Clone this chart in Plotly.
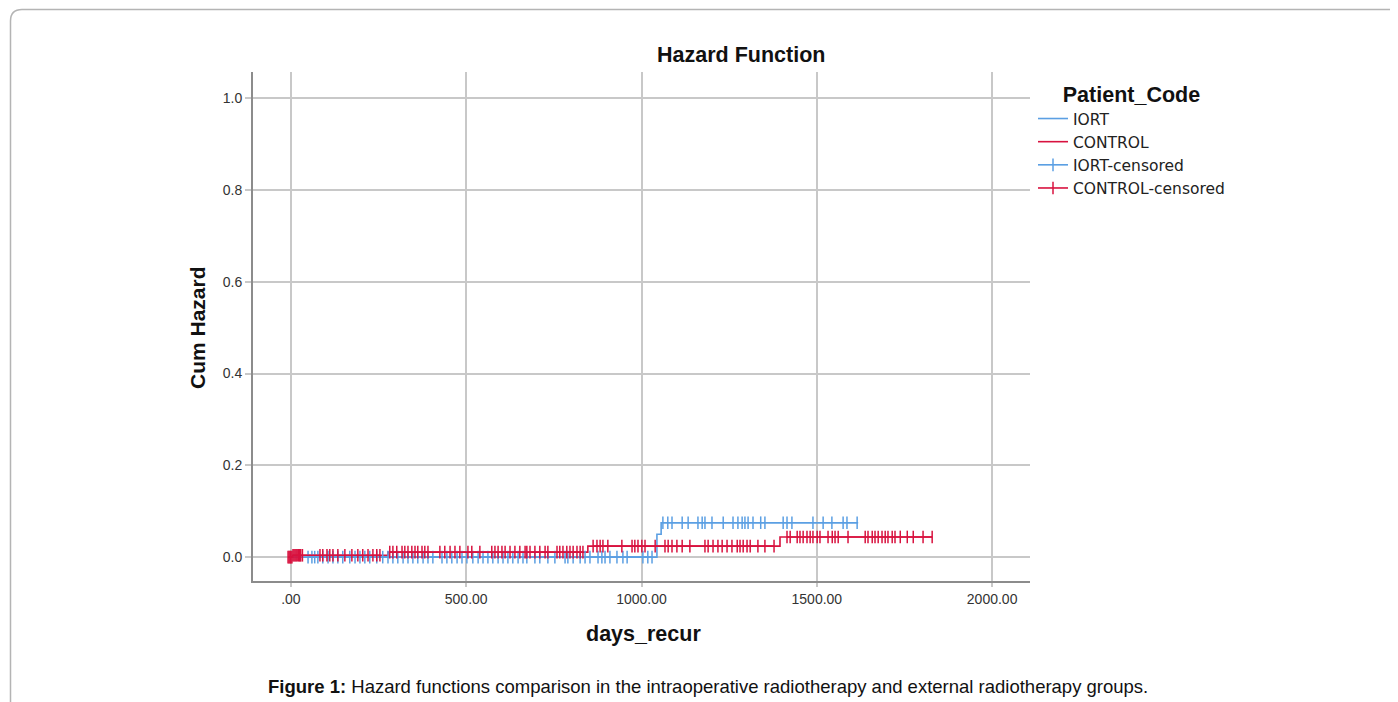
import plotly.graph_objects as go
import numpy as np

# ---------------- data ----------------
iort_times = [0, 1044, 1056, 1618]
iort_cumhaz = [0.0, 0.05, 0.075, 0.075]

control_times = [0, 5, 277, 847, 1395, 1829]
control_cumhaz = [0.0, 0.004, 0.011, 0.024, 0.044, 0.044]

iort_censored = [49, 60, 68, 77, 91, 106, 120, 134, 148, 168, 183, 197, 211, 225, 245,
                 262, 277, 291, 305, 320, 334, 348, 362, 377, 391, 405, 431, 445, 459,
                 474, 488, 502, 519, 534, 548, 562, 576, 591, 605, 619, 633, 648, 662,
                 673, 696, 710, 733, 753, 782, 790, 805, 825, 839, 853, 876, 887, 896,
                 910, 930, 947, 959, 1004, 1018, 1030,
                 1061, 1075, 1087, 1116, 1133, 1161, 1173, 1181, 1201, 1233, 1261, 1275,
                 1287, 1295, 1304, 1318, 1340, 1352, 1404, 1415, 1429, 1489, 1518, 1543,
                 1575, 1586, 1615]

control_censored = [-8, -5, -2, 0, 3, 6, 9, 12, 15, 18, 22, 25, 28, 33, 83, 91, 103, 111,
                    120, 134, 154, 174, 191, 205, 220, 234, 245, 254,
                    282, 291, 302, 317, 325, 334, 345, 354, 362, 374, 382, 391, 425, 439,
                    454, 468, 482, 505, 516, 539, 573, 582, 591, 602, 611, 625, 639, 653,
                    668, 673, 682, 696, 710, 725, 733, 759, 767, 776, 787, 796, 805, 816,
                    825, 833,
                    862, 873, 882, 890, 904, 944, 973, 981, 990, 1001, 1010, 1039, 1067,
                    1076, 1087, 1101, 1116, 1138, 1181, 1190, 1204, 1218, 1230, 1244, 1258,
                    1273, 1281, 1290, 1301, 1310, 1332, 1352, 1378,
                    1415, 1424, 1444, 1452, 1461, 1472, 1481, 1489, 1501, 1509, 1532, 1544,
                    1552, 1561, 1589, 1638, 1646, 1658, 1666, 1675, 1686, 1695, 1703, 1715,
                    1723, 1738, 1758, 1775, 1803, 1829]

x_tickvals = [0, 500, 1000, 1500, 2000]
x_ticktext = [".00", "500.00", "1000.00", "1500.00", "2000.00"]
y_tickvals = [0.0, 0.2, 0.4, 0.6, 0.8, 1.0]
y_ticktext = ["0.0", "0.2", "0.4", "0.6", "0.8", "1.0"]

BLUE = "#5B9FE3"
RED = "#D8123F"
FONT = "Liberation Sans, Arial, sans-serif"


def step_value(t, times, haz):
    idx = np.searchsorted(np.array(times), t, side="right") - 1
    return haz[max(idx, 0)]


def censored_xy(cens, times, haz):
    xs, ys = [], []
    prev = None
    for t in sorted(cens):
        h = step_value(t, times, haz)
        if prev is not None and h != prev:
            xs.append(None)
            ys.append(None)
        xs.append(t)
        ys.append(h)
        prev = h
    return xs, ys


fig = go.Figure()
fig.add_trace(go.Scatter(x=iort_times, y=iort_cumhaz, mode="lines", name="IORT",
                         line=dict(color=BLUE, width=1.6, shape="hv")))
fig.add_trace(go.Scatter(x=control_times, y=control_cumhaz, mode="lines", name="CONTROL",
                         line=dict(color=RED, width=1.6, shape="hv")))
ix, iy = censored_xy(iort_censored, iort_times, iort_cumhaz)
fig.add_trace(go.Scatter(x=ix, y=iy, mode="lines+markers", name="IORT-censored",
                         line=dict(color=BLUE, width=1.6), connectgaps=False,
                         marker=dict(symbol="line-ns", size=9,
                                     line=dict(color=BLUE, width=1.5))))
cx, cy = censored_xy(control_censored, control_times, control_cumhaz)
fig.add_trace(go.Scatter(x=cx, y=cy, mode="lines+markers", name="CONTROL-censored",
                         line=dict(color=RED, width=1.6), connectgaps=False,
                         marker=dict(symbol="line-ns", size=9,
                                     line=dict(color=RED, width=1.5))))

OFF = 8  # page body margin offset
L, R, T, B = 253 - OFF, 1030 - OFF, 72 - OFF, 581 - OFF
W, H = 1390, 694


def px(x):
    return (x - OFF - L) / (R - L)


def py(y):
    return (B - (y - OFF)) / (B - T)


fig.update_layout(
    width=W, height=H,
    margin=dict(l=L, r=W - R, t=T, b=H - B, autoexpand=False),
    paper_bgcolor="white", plot_bgcolor="white",
    font=dict(family=FONT, color="#222222"),
    showlegend=True,
    legend=dict(
        x=px(1033), y=py(74), xanchor="left", yanchor="top",
        title=dict(text="<b>Patient_Code</b>",
                   font=dict(size=21.5, color="#111", family=FONT),
                   side="top center"),
        font=dict(size=15.5, color="#222", family="DejaVu Sans, sans-serif"),
        bgcolor="rgba(0,0,0,0)", itemwidth=30, tracegroupgap=0,
    ),
    xaxis=dict(
        range=[-108, 2108], tickvals=x_tickvals, ticktext=x_ticktext,
        showgrid=True, gridcolor="#c8c8c8", gridwidth=1.5,
        showline=True, linecolor="#8c8c8c", linewidth=2,
        ticks="outside", ticklen=4, tickcolor="#c8c8c8", tickwidth=1.5,
        tickfont=dict(size=14, color="#333"), zeroline=False,
    ),
    yaxis=dict(
        range=[-0.052, 1.057], tickvals=y_tickvals, ticktext=y_ticktext,
        showgrid=True, gridcolor="#c8c8c8", gridwidth=1.5,
        showline=True, linecolor="#8c8c8c", linewidth=2,
        ticks="outside", ticklen=6, tickcolor="#c8c8c8", tickwidth=1.5,
        tickfont=dict(size=14, color="#333"), zeroline=False,
    ),
    annotations=[
        dict(text="<b>Hazard Function</b>", x=px(741), y=py(55), xref="paper", yref="paper",
             showarrow=False, font=dict(size=21.5, color="#111"), xanchor="center", yanchor="middle"),
        dict(text="<b>Cum Hazard</b>", x=px(197), y=py(328), xref="paper", yref="paper",
             showarrow=False, textangle=-90, font=dict(size=21, color="#111"),
             xanchor="center", yanchor="middle"),
        dict(text="<b>days_recur</b>", x=px(643), y=py(634), xref="paper", yref="paper",
             showarrow=False, font=dict(size=21.5, color="#111"), xanchor="center", yanchor="middle"),
        dict(text="<b>Figure 1:</b> Hazard functions comparison in the intraoperative radiotherapy and external radiotherapy groups.",
             x=px(708), y=py(686), xref="paper", yref="paper", showarrow=False,
             font=dict(size=18.5, color="#111"), xanchor="center", yanchor="middle"),
    ],
)

# outer rounded frame (image border)
x0, y0 = px(10.5), py(9.5)
xr, yb = px(1420), py(720)
rx, ry = px(22) - px(10.5), py(9.5) - py(21)
path = (f"M {x0},{yb} L {x0},{y0 - ry} Q {x0},{y0} {x0 + rx},{y0} L {xr},{y0}")
fig.add_shape(type="path", path=path, xref="paper", yref="paper",
              line=dict(color="#b4b4b4", width=1.5), layer="below")

fig.write_html("out.html")
